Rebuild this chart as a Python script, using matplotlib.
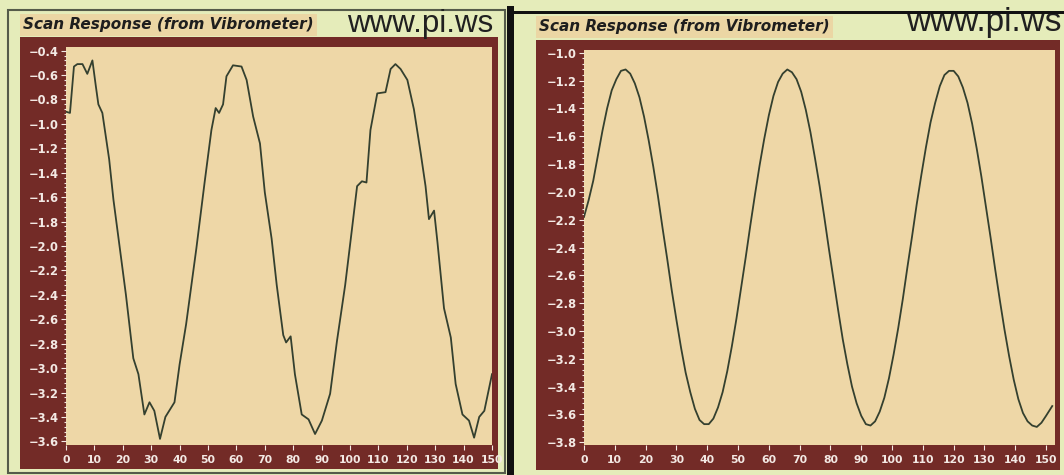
import matplotlib
matplotlib.use('Agg')
import matplotlib.pyplot as plt
from matplotlib.patches import Rectangle
from matplotlib.ticker import MultipleLocator, AutoMinorLocator, FuncFormatter

# measured scan, un-compensated (left)
raw_x = [0, 1.4, 2.8, 4.0, 5.8, 7.5, 9.3, 10.5, 11.4, 12.8, 15.2, 16.7, 19.3, 21.1,
         23.7, 25.5, 27.6, 29.4, 31.1, 33.1, 35.0, 38.2, 40.0, 42.3, 45.9, 48.8,
         51.2, 52.7, 53.9, 55.3, 56.5, 58.8, 61.8, 63.6, 65.9, 68.3, 70.0, 72.4,
         74.2, 76.5, 77.5, 79.1, 80.6, 83.0, 85.4, 87.7, 90.1, 93.0, 95.4, 98.3,
         100.7, 102.5, 104.2, 105.8, 107.2, 109.6, 112.5, 114.3, 116.0, 117.8,
         120.2, 122.5, 124.9, 126.6, 127.8, 129.6, 130.8, 133.1, 135.5, 137.2,
         139.6, 141.9, 143.7, 145.5, 147.3, 150.0]
raw_y = [-0.90, -0.91, -0.53, -0.51, -0.51, -0.59, -0.48, -0.69, -0.84, -0.91,
         -1.29, -1.62, -2.08, -2.40, -2.92, -3.05, -3.38, -3.28, -3.35, -3.58,
         -3.40, -3.28, -2.97, -2.64, -2.02, -1.48, -1.05, -0.87, -0.91, -0.84,
         -0.61, -0.52, -0.53, -0.64, -0.94, -1.16, -1.56, -1.94, -2.32, -2.73,
         -2.79, -2.74, -3.05, -3.38, -3.42, -3.54, -3.43, -3.21, -2.78, -2.32,
         -1.86, -1.51, -1.47, -1.48, -1.05, -0.75, -0.74, -0.55, -0.51, -0.55,
         -0.64, -0.88, -1.24, -1.51, -1.78, -1.71, -1.97, -2.51, -2.75, -3.13,
         -3.38, -3.43, -3.57, -3.40, -3.35, -3.05]

# measured scan, compensated (right), sampled every 1.5 units
comp_x = [0, 1.5, 3, 4.5, 6, 7.5, 9, 10.5, 12, 13.5, 15, 16.5, 18, 19.5, 21, 22.5,
          24, 25.5, 27, 28.5, 30, 31.5, 33, 34.5, 36, 37.5, 39, 40.5, 42, 43.5,
          45, 46.5, 48, 49.5, 51, 52.5, 54, 55.5, 57, 58.5, 60, 61.5, 63, 64.5,
          66, 67.5, 69, 70.5, 72, 73.5, 75, 76.5, 78, 79.5, 81, 82.5, 84, 85.5,
          87, 88.5, 90, 91.5, 93, 94.5, 96, 97.5, 99, 100.5, 102, 103.5, 105,
          106.5, 108, 109.5, 111, 112.5, 114, 115.5, 117, 118.5, 120, 121.5, 123,
          124.5, 126, 127.5, 129, 130.5, 132, 133.5, 135, 136.5, 138, 139.5, 141,
          142.5, 144, 145.5, 147, 148.5, 150, 152]
comp_y = [-2.18, -2.06, -1.92, -1.74, -1.56, -1.40, -1.27, -1.19, -1.13, -1.12,
          -1.15, -1.22, -1.32, -1.46, -1.63, -1.82, -2.03, -2.26, -2.48, -2.71,
          -2.92, -3.12, -3.30, -3.44, -3.56, -3.64, -3.67, -3.67, -3.63, -3.55,
          -3.44, -3.29, -3.11, -2.91, -2.69, -2.47, -2.24, -2.02, -1.81, -1.62,
          -1.45, -1.31, -1.21, -1.15, -1.12, -1.14, -1.19, -1.28, -1.41, -1.57,
          -1.76, -1.96, -2.18, -2.41, -2.63, -2.85, -3.06, -3.24, -3.40, -3.52,
          -3.61, -3.67, -3.68, -3.65, -3.58, -3.48, -3.34, -3.17, -2.98, -2.77,
          -2.54, -2.32, -2.09, -1.88, -1.68, -1.50, -1.36, -1.24, -1.16, -1.13,
          -1.13, -1.17, -1.25, -1.36, -1.51, -1.69, -1.89, -2.11, -2.33, -2.56,
          -2.78, -2.99, -3.18, -3.35, -3.49, -3.59, -3.65, -3.68, -3.69, -3.66,
          -3.61, -3.54]

title = 'Scan Response (from Vibrometer)'
site = 'www.pi.ws'

W, H = 1064, 475
GREEN = '#E5ECBA'
MAROON = '#732B27'
TAN = '#EED7A7'
LINE = '#34402F'

plt.rcParams['font.family'] = ['DejaVu Sans']
plt.rcParams['font.weight'] = 'bold'

fig = plt.figure(figsize=(W / 100, H / 100), dpi=100)
fig.patch.set_facecolor(GREEN)


def box(x0, y0, x1, y1, z=-5, **kw):
    fig.add_artist(Rectangle((x0 / W, 1 - y1 / H), (x1 - x0) / W, (y1 - y0) / H,
                             transform=fig.transFigure, zorder=z, **kw))


def put(x, y, s, **kw):
    fig.text(x / W, 1 - y / H, s, **kw)


def minus(v, pos):
    return '\u2212%.1f' % abs(v) if v < 0 else '%.1f' % v


def make_panel(frame, plot, xs, ys, xlim, ylim, tx, ty, sx, sy, ssize):
    fx0, fy0, fx1, fy1 = frame
    box(fx0, fy0, fx1, fy1, facecolor=MAROON, edgecolor='none')
    px0, py0, px1, py1 = plot
    ax = fig.add_axes([px0 / W, 1 - py1 / H, (px1 - px0) / W, (py1 - py0) / H])
    ax.set_facecolor(TAN)
    for s in ax.spines.values():
        s.set_visible(False)
    ax.plot(xs, ys, color=LINE, lw=1.3, solid_joinstyle='round')
    ax.set_xlim(*xlim)
    ax.set_ylim(*ylim)
    ax.xaxis.set_major_locator(MultipleLocator(10))
    ax.yaxis.set_major_locator(MultipleLocator(0.2))
    ax.yaxis.set_minor_locator(AutoMinorLocator(5))
    ax.yaxis.set_major_formatter(FuncFormatter(minus))
    ax.tick_params(which='both', direction='out', colors='#F3E9E4',
                   labelsize=8.3, width=0.8, pad=1.5)
    ax.tick_params(which='major', length=3.5)
    ax.tick_params(which='minor', length=1.8)
    ax.tick_params(axis='x', pad=4, labelsize=7.8)
    put(tx, ty, title, fontsize=11, style='italic', weight='bold', color='#1E1E1E',
        va='center', ha='left',
        bbox=dict(boxstyle='square,pad=0.2', facecolor='#EBD6A4', edgecolor='none'))
    put(sx, sy, site, fontsize=ssize, weight='normal', color='#202020',
        family='Liberation Sans', va='center', ha='right')
    return ax


# left panel border
box(8, 10, 505, 473, facecolor='none', edgecolor='#555B4A', lw=1.5)
make_panel((20, 37, 498, 469), (66, 47, 492, 445), raw_x, raw_y,
           (0, 150), (-3.63, -0.37), 23, 25, 493, 24, 22.5)

# divider and right panel top edge
box(507, 6, 514, 475, z=5, facecolor='#111111', edgecolor='none')
box(514, 11, 1064, 14, z=5, facecolor='#111111', edgecolor='none')
make_panel((536, 40, 1060, 470), (584, 50, 1055, 445), comp_x, comp_y,
           (0, 152.9), (-3.82, -0.98), 539, 27, 1062, 22, 24)

fig.savefig('out.png', dpi=100, facecolor=fig.get_facecolor())
